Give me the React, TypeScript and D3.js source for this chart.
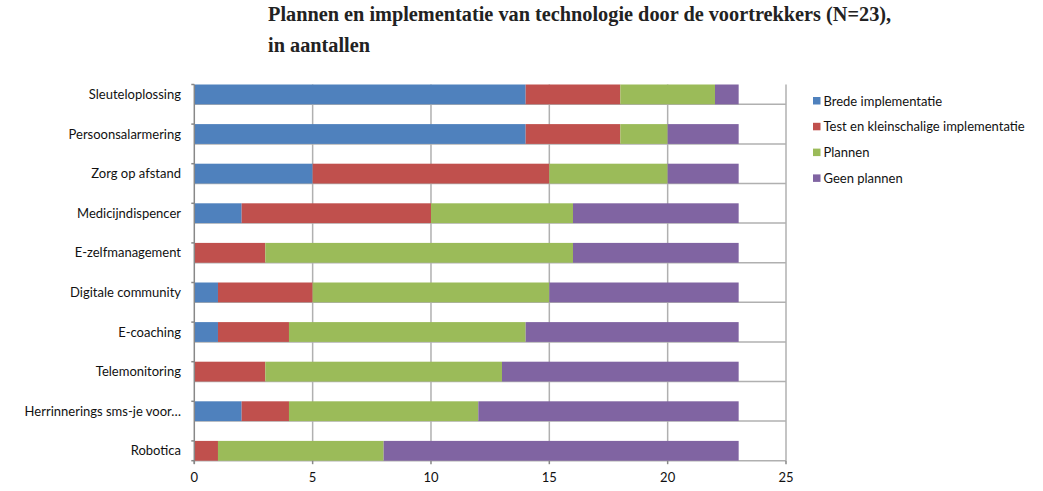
import React from "react";
import * as d3 from "d3";

const categories = [
  "Sleuteloplossing",
  "Persoonsalarmering",
  "Zorg op afstand",
  "Medicijndispencer",
  "E-zelfmanagement",
  "Digitale community",
  "E-coaching",
  "Telemonitoring",
  "Herrinnerings sms-je voor…",
  "Robotica",
];
const seriesNames = [
  "Brede implementatie",
  "Test en kleinschalige implementatie",
  "Plannen",
  "Geen plannen",
];
const brede = [14, 14, 5, 2, 0, 1, 1, 0, 2, 0];
const test = [4, 4, 10, 8, 3, 4, 3, 3, 2, 1];
const plannen = [4, 2, 5, 6, 13, 10, 10, 10, 8, 7];
const geen = [1, 3, 3, 7, 7, 8, 9, 10, 11, 15];
const xTicks = [0, 5, 10, 15, 20, 25];
const colors = ["#4F81BD", "#C0504D", "#9BBB59", "#8064A2"];
const titleLines = [
  "Plannen en implementatie van technologie door de voortrekkers (N=23),",
  "in aantallen",
];

export default function App() {
  const W = 1043;
  const H = 491;
  const left = 194.3;
  const right = 786;
  const top = 84.5;
  const step = 39.6;
  const barH = 19.8;
  const bottom = top + step * (categories.length - 1) + barH;

  const x = d3.scaleLinear().domain([0, 25]).range([left, right]);
  const y = d3
    .scaleBand()
    .domain(categories)
    .range([top, top + step * categories.length])
    .paddingInner(0)
    .paddingOuter(0);

  const rows = categories.map((c, i) => ({
    cat: c,
    b: brede[i],
    t: test[i],
    p: plannen[i],
    g: geen[i],
  }));
  const stack = d3.stack<any>().keys(["b", "t", "p", "g"])(rows);

  const font = "Lato, 'Open Sans', sans-serif";
  const gridColor = "#B0B0B0";

  return (
    <svg width={W} height={H} style={{ display: "block", position: "absolute", left: 0, top: 0 }}>
      <rect width={W} height={H} fill="#fff" />
      {titleLines.map((t, i) => (
        <text
          key={i}
          x={268}
          y={21 + i * 31}
          fontFamily="'Liberation Serif', serif"
          fontWeight="bold"
          fontSize={20.3}
          fill="#222"
        >
          {t}
        </text>
      ))}
      {/* vertical gridlines */}
      {xTicks.slice(1).map((t) => (
        <line key={t} x1={x(t)} x2={x(t)} y1={top} y2={bottom} stroke={gridColor} strokeWidth={1.5} />
      ))}
      {/* horizontal lines at bar bottoms */}
      {categories.map((c) => (
        <line
          key={c}
          x1={left}
          x2={right}
          y1={(y(c) as number) + barH}
          y2={(y(c) as number) + barH}
          stroke={gridColor}
          strokeWidth={1.5}
        />
      ))}
      {/* bars */}
      {stack.map((s, si) =>
        s.map((d, i) =>
          d[1] - d[0] > 0 ? (
            <rect
              key={si + "-" + i}
              x={x(d[0])}
              width={x(d[1]) - x(d[0])}
              y={y(categories[i])}
              height={barH}
              fill={colors[si]}
            />
          ) : null
        )
      )}
      {/* left axis */}
      <line x1={left} x2={left} y1={top} y2={bottom + 3} stroke="#888" strokeWidth={1.5} />
      {categories.map((c, i) => (
        <line
          key={"tk" + i}
          x1={left - 3}
          x2={left}
          y1={(y(c) as number)}
          y2={(y(c) as number)}
          stroke="#888"
          strokeWidth={1.5}
        />
      ))}
      <line x1={left - 3} x2={left} y1={bottom} y2={bottom} stroke="#888" strokeWidth={1.5} />
      {/* bottom axis ticks */}
      {xTicks.map((t) => (
        <g key={"xt" + t}>
          <line x1={x(t)} x2={x(t)} y1={bottom} y2={bottom + 3.5} stroke="#888" strokeWidth={1.5} />
          <text x={x(t)} y={482} textAnchor="middle" fontFamily={font} fontSize={13} fill="#111">
            {t}
          </text>
        </g>
      ))}
      {/* category labels */}
      {categories.map((c) => (
        <text
          key={"l" + c}
          x={181}
          y={(y(c) as number) + barH / 2}
          dy="0.35em"
          textAnchor="end"
          fontFamily={font}
          fontSize={13}
          fill="#111"
        >
          {c}
        </text>
      ))}
      {/* legend */}
      {seriesNames.map((n, i) => (
        <g key={"lg" + n} transform={`translate(813, ${101 + i * 25.8})`}>
          <rect x={0} y={-4} width={7.5} height={7.5} fill={colors[i]} />
          <text x={10.5} y={0} dy="0.35em" fontFamily={font} fontSize={13} fill="#111">
            {n}
          </text>
        </g>
      ))}
    </svg>
  );
}
